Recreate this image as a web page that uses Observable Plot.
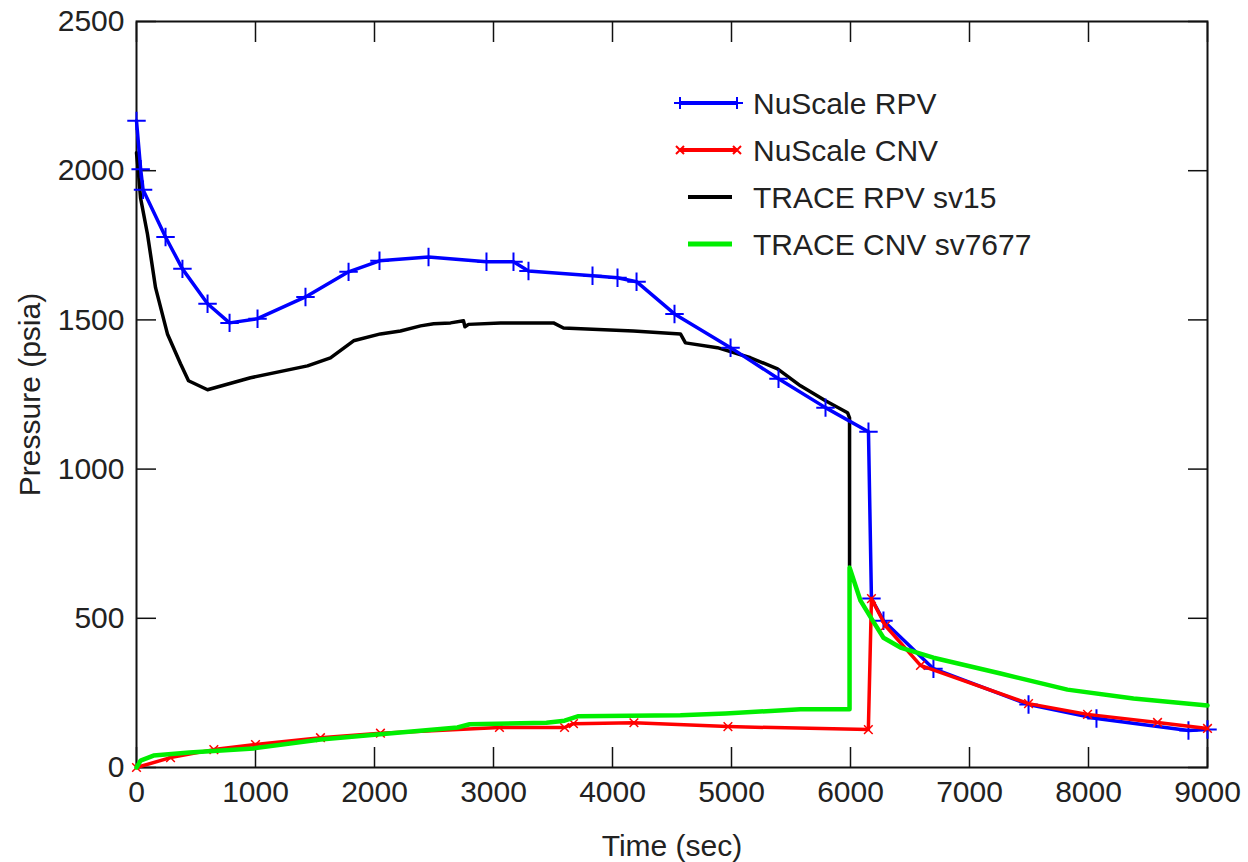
<!DOCTYPE html>
<html>
<head>
<meta charset="utf-8">
<script src="https://cdn.jsdelivr.net/npm/d3@7"></script>
<script src="https://cdn.jsdelivr.net/npm/@observablehq/plot@0.6"></script>
<style>
  html, body { margin: 0; padding: 0; background: #fff; }
  #wrap { position: relative; width: 1248px; height: 862px; }
  #legend { position: absolute; left: 0; top: 0; }
  svg text { font-family: "Liberation Sans", Arial, sans-serif; }
</style>
</head>
<body>
<div id="wrap"></div>
<script>
// ---- data ----
const xTicks = [0, 1000, 2000, 3000, 4000, 5000, 6000, 7000, 8000, 9000];
const yTicks = [0, 500, 1000, 1500, 2000, 2500];

const seriesNames = ["NuScale RPV", "NuScale CNV", "TRACE RPV sv15", "TRACE CNV sv7677"];
const seriesColors = ["#0000ff", "#ff0000", "#000000", "#00ee00"];

const rpvNuT = [0, 35, 55, 244, 386, 597, 782, 1017, 1420, 1782, 2042, 2454, 2941, 3168, 3294, 3832, 4042, 4202, 4521, 4992, 5395, 5790, 6151, 6176, 6277, 6697, 7496, 8067, 8840, 9000];
const rpvNuP = [2167, 2005, 1936, 1778, 1671, 1554, 1490, 1504, 1577, 1661, 1698, 1711, 1695, 1695, 1664, 1648, 1641, 1628, 1520, 1407, 1303, 1206, 1125, 566, 492, 331, 211, 164, 124, 127];

const cnvNuT = [0, 286, 650, 1000, 1546, 2050, 3050, 3597, 3672, 4180, 4970, 6150, 6176, 6294, 6588, 7496, 7992, 8580, 9000];
const cnvNuP = [0, 33, 60, 77, 100, 115, 134, 134, 147, 150, 137, 127, 566, 475, 342, 214, 178, 151, 131];

const rpvTrT = [0, 15, 34, 92, 160, 260, 370, 437, 597, 958, 1437, 1630, 1824, 2050, 2218, 2387, 2497, 2639, 2748, 2760, 2790, 3059, 3504, 3588, 4176, 4571, 4613, 4882, 5160, 5387, 5580, 5790, 5975, 5992, 5992];
const rpvTrP = [2060, 2000, 1909, 1788, 1608, 1453, 1353, 1296, 1266, 1306, 1346, 1373, 1430, 1453, 1463, 1480, 1487, 1490, 1497, 1477, 1485, 1490, 1490, 1473, 1463, 1453, 1423, 1407, 1373, 1336, 1279, 1229, 1189, 1172, 676];

const cnvTrT = [0, 34, 143, 445, 983, 1546, 2000, 2697, 2800, 3445, 3597, 3714, 4571, 4950, 5580, 5992, 5992, 6084, 6176, 6277, 6420, 6697, 7261, 7823, 8378, 9000];
const cnvTrP = [0, 23, 40, 50, 64, 94, 110, 134, 145, 150, 157, 172, 175, 181, 195, 195, 670, 559, 499, 435, 402, 368, 315, 261, 231, 208];

// ---- build tables ----
const toRows = (ts, ps) => ts.map((t, i) => ({t, p: ps[i]}));
const rpvNu = toRows(rpvNuT, rpvNuP);
const cnvNu = toRows(cnvNuT, cnvNuP);
const rpvTr = toRows(rpvTrT, rpvTrP);
const cnvTr = toRows(cnvTrT, cnvTrP);

const FONT = 30;
const fmt = d => String(d);

const chart = Plot.plot({
  width: 1248,
  height: 862,
  marginLeft: 136,
  marginRight: 41,
  marginTop: 21,
  marginBottom: 95,
  style: {fontFamily: "'Liberation Sans', Arial, sans-serif", fontSize: FONT + "px", color: "#222", background: "#fff"},
  x: {domain: [0, 9000]},
  y: {domain: [0, 2500]},
  marks: [
    Plot.frame({stroke: "#111", strokeWidth: 2}),
    // inward ticks on all four sides
    Plot.axisX(xTicks, {anchor: "bottom", tickSize: -20, text: null, label: null, stroke: "#111", strokeWidth: 1.5}),
    Plot.axisX(xTicks, {anchor: "top", tickSize: -20, text: null, label: null, stroke: "#111", strokeWidth: 1.5}),
    Plot.axisY(yTicks, {anchor: "left", tickSize: -20, text: null, label: null, stroke: "#111", strokeWidth: 1.5}),
    Plot.axisY(yTicks, {anchor: "right", tickSize: -20, text: null, label: null, stroke: "#111", strokeWidth: 1.5}),
    // labels
    Plot.axisX(xTicks, {anchor: "bottom", tickSize: 0, tickPadding: 13, tickFormat: fmt, fontSize: FONT,
      label: "Time (sec)", labelAnchor: "center", labelOffset: 88, labelArrow: "none"}),
    Plot.axisY(yTicks, {anchor: "left", tickSize: 0, tickPadding: 12, tickFormat: fmt, fontSize: FONT,
      label: "Pressure (psia)", labelAnchor: "center", labelOffset: 118, labelArrow: "none"}),
    // series
    Plot.line(rpvTr, {x: "t", y: "p", stroke: seriesColors[2], strokeWidth: 3.5}),
    Plot.line(rpvNu, {x: "t", y: "p", stroke: seriesColors[0], strokeWidth: 3.5}),
    Plot.dot(rpvNu, {x: "t", y: "p", symbol: "plus", r: 6, stroke: seriesColors[0], strokeWidth: 2}),
    Plot.line(cnvNu, {x: "t", y: "p", stroke: seriesColors[1], strokeWidth: 3.5}),
    Plot.dot(cnvNu, {x: "t", y: "p", symbol: "times", r: 4, stroke: seriesColors[1], strokeWidth: 1.5}),
    Plot.line(cnvTr, {x: "t", y: "p", stroke: seriesColors[3], strokeWidth: 4.5})
  ]
});

const wrap = document.getElementById("wrap");
wrap.appendChild(chart);

// ---- legend overlay ----
const ns = "http://www.w3.org/2000/svg";
const leg = document.createElementNS(ns, "svg");
leg.setAttribute("id", "legend");
leg.setAttribute("width", 1248);
leg.setAttribute("height", 862);
leg.style.pointerEvents = "none";
const legX0 = [680, 680, 688, 688];
const legX1 = [737, 737, 732, 732];
seriesNames.forEach((name, i) => {
  const y = 103 + i * 47;
  const line = document.createElementNS(ns, "line");
  line.setAttribute("x1", legX0[i]); line.setAttribute("x2", legX1[i]);
  line.setAttribute("y1", y); line.setAttribute("y2", y);
  line.setAttribute("stroke", seriesColors[i]);
  line.setAttribute("stroke-width", i === 3 ? 5 : 4);
  leg.appendChild(line);
  if (i < 2) {
    [legX0[i], legX1[i]].forEach(cx => {
      const m = document.createElementNS(ns, "path");
      const s = 6;
      m.setAttribute("d", i === 0
        ? `M${cx - s},${y}H${cx + s}M${cx},${y - s}V${y + s}`
        : `M${cx - 4},${y - 4}L${cx + 4},${y + 4}M${cx - 4},${y + 4}L${cx + 4},${y - 4}`);
      m.setAttribute("stroke", seriesColors[i]);
      m.setAttribute("stroke-width", 2);
      leg.appendChild(m);
    });
  }
  const t = document.createElementNS(ns, "text");
  t.setAttribute("x", 753);
  t.setAttribute("y", y);
  t.setAttribute("dy", "0.35em");
  t.setAttribute("font-size", FONT);
  t.setAttribute("fill", "#222");
  t.textContent = name;
  leg.appendChild(t);
});
wrap.appendChild(leg);
</script>
</body>
</html>
